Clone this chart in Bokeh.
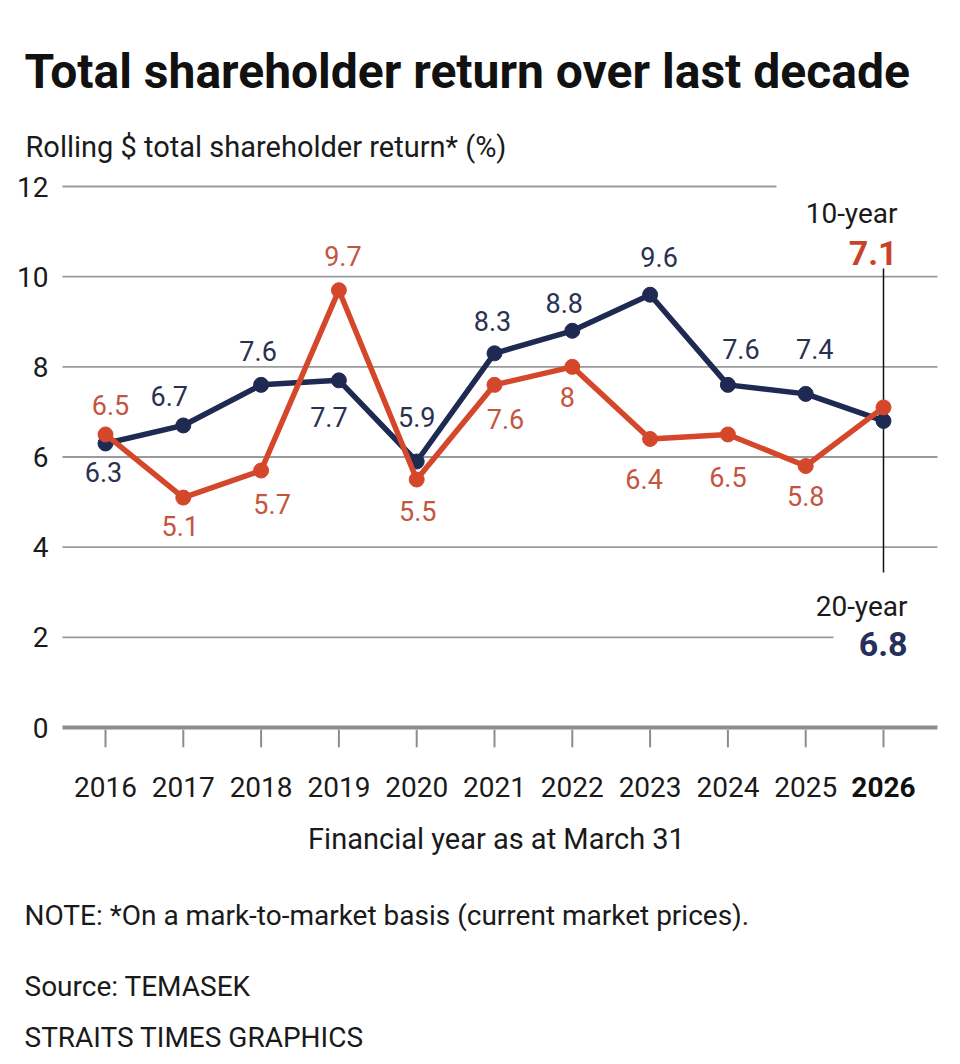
from bokeh.plotting import figure
from bokeh.models import Range1d, Label, ColumnDataSource
from bokeh.embed import file_html
from bokeh.resources import INLINE
from bokeh.core.properties import value

# ---------------- data ----------------
years = [2016, 2017, 2018, 2019, 2020, 2021, 2022, 2023, 2024, 2025, 2026]
ret_20y = [6.3, 6.7, 7.6, 7.7, 5.9, 8.3, 8.8, 9.6, 7.6, 7.4, 6.8]   # navy
ret_10y = [6.5, 5.1, 5.7, 9.7, 5.5, 7.6, 8.0, 6.4, 6.5, 5.8, 7.1]   # red
y_ticks = [0, 2, 4, 6, 8, 10, 12]
year_labels = [str(y) for y in years]

# ---------------- layout / style ----------------
W, H = 944, 1056
FONT = "Roboto"
NAVY = "#1f2a52"
RED = "#d5472b"
NAVY_TXT = "#2a3152"
RED_TXT = "#c4553f"
GRID = "#9a9a9a"

# label offsets (screen px) for each point: (dx, dy), dy>0 means below
off_20y = [(-2, 29), (-14, -29), (-3, -34), (-10, 37), (0, -45), (-2, -32),
           (-8, -28), (9, -38), (13, -36), (9, -45)]
off_10y = [(5, -29), (-3, 28), (11, 33), (4, -34), (1, 31), (11, 34),
           (-5, 30), (-6, 40), (0, 43), (0, 30)]

PX_YEAR = 77.8          # pixels per year
X0_PX = 105             # pixel position of first year
Y0_PX = 727             # pixel position of zero
ppu = 541 / 12.0        # pixels per percentage point

x_start = years[0] - X0_PX / PX_YEAR
x_end = years[0] + (W - X0_PX) / PX_YEAR
y_start = (Y0_PX - H) / ppu
y_end = Y0_PX / ppu

p = figure(width=W, height=H, output_backend="svg", toolbar_location=None,
           x_axis_type=None, y_axis_type=None,
           x_range=Range1d(x_start, x_end), y_range=Range1d(y_start, y_end),
           min_border=0, min_border_left=0, min_border_right=0,
           min_border_top=0, min_border_bottom=0)
p.outline_line_color = None
p.grid.visible = False
p.background_fill_color = "white"
p.border_fill_color = "white"

left_x = years[0] - 0.553
right_x = years[-1] + 0.694
# grid line right ends (shortened to leave room for end labels)
grid_right = {12: years[0] + 671 / PX_YEAR, 2: years[0] + 728 / PX_YEAR}

g = [t for t in y_ticks if t != 0]
p.segment(x0=[left_x] * len(g), x1=[grid_right.get(t, right_x) for t in g],
          y0=g, y1=g, line_color=GRID, line_width=1.8)
# zero baseline
p.segment(x0=[left_x], x1=[right_x], y0=[0], y1=[0], line_color="#8c8c8c", line_width=4)
# x ticks
p.segment(x0=years, x1=years, y0=[-0.05] * len(years), y1=[-0.44] * len(years),
          line_color="#8c8c8c", line_width=2)

# y tick labels
p.text(x=[left_x] * len(y_ticks), y=y_ticks, text=[str(t) for t in y_ticks],
       x_offset=-14, text_align="right", text_baseline="middle",
       text_font=value(FONT), text_font_size="28px", text_color="#1a1a1a")

# x tick labels
p.text(x=years[:-1], y=[0] * (len(years) - 1), text=year_labels[:-1],
       y_offset=59, text_align="center", text_baseline="alphabetic",
       text_font=value(FONT), text_font_size="28px", text_color="#1a1a1a")
p.text(x=years[-1:], y=[0], text=year_labels[-1:],
       y_offset=59, text_align="center", text_baseline="alphabetic",
       text_font=value(FONT), text_font_size="28px", text_font_style="bold",
       text_color="#111111")

# vertical marker line at latest year
p.segment(x0=[years[-1]], x1=[years[-1]], y0=[(Y0_PX - 572) / ppu], y1=[(Y0_PX - 268) / ppu],
          line_color="#111111", line_width=1.5)

# series
p.line(years, ret_20y, line_color=NAVY, line_width=5.5, line_join="round")
p.scatter(years, ret_20y, size=15, fill_color=NAVY, line_color=NAVY)
p.line(years, ret_10y, line_color=RED, line_width=5.5, line_join="round")
p.scatter(years, ret_10y, size=15, fill_color=RED, line_color=RED)

# point labels
def fmt(v):
    return ("%g" % v)

for vals, offs, col in ((ret_20y, off_20y, NAVY_TXT), (ret_10y, off_10y, RED_TXT)):
    src = ColumnDataSource(dict(
        x=years[:-1], y=vals[:-1], t=[fmt(v) for v in vals[:-1]],
        dx=[o[0] for o in offs], dy=[o[1] for o in offs]))
    p.text(x="x", y="y", text="t", x_offset="dx", y_offset="dy", source=src,
           text_align="center", text_baseline="middle",
           text_font=value(FONT), text_font_size="27px", text_color=col)

# ---------------- texts ----------------
def lab(text, x, y_px, size, style="normal", color="#111111", align="left"):
    p.add_layout(Label(x=x, y=H - y_px, x_units="screen", y_units="screen", text=text,
                       text_font=FONT, text_font_size=size, text_font_style=style,
                       text_color=color, text_align=align, text_baseline="alphabetic"))

lab("Total shareholder return over last decade", 24, 71, "48px", "bold", "#111111")
lab("Rolling $ total shareholder return* (%)", 25, 146, "29px", color="#1a1a1a")
lab("10-year", 897, 213, "28px", color="#1a1a1a", align="right")
lab(fmt(ret_10y[-1]), 897, 252, "34px", "bold", "#c9432c", align="right")
lab("20-year", 907, 606, "28px", color="#1a1a1a", align="right")
lab(fmt(ret_20y[-1]), 907, 643, "34px", "bold", "#26305a", align="right")
lab("Financial year as at March 31", 496, 838, "29px", color="#1a1a1a", align="center")
lab("NOTE: *On a mark-to-market basis (current market prices).", 24, 915, "28px", color="#1a1a1a")
lab("Source: TEMASEK", 24, 986, "28px", color="#1a1a1a")
lab("STRAITS TIMES GRAPHICS", 24, 1037, "28px", color="#1a1a1a")

open("out.html", "w").write(file_html(p, INLINE))
